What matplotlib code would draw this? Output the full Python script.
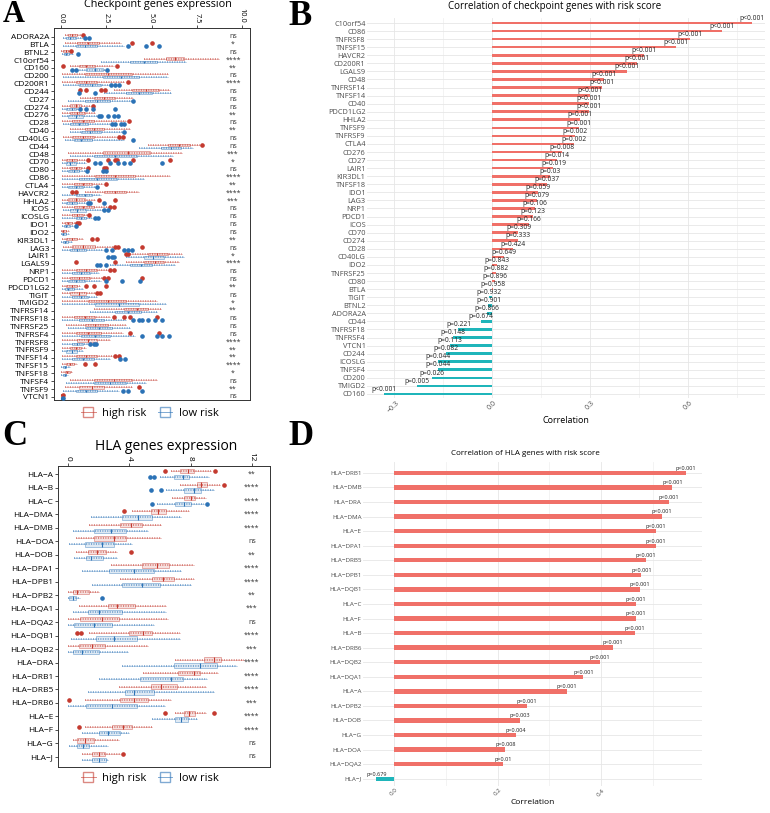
import matplotlib
matplotlib.use("Agg")
import matplotlib.pyplot as plt
from matplotlib.colors import to_rgba
from matplotlib.lines import Line2D
from matplotlib.ticker import MultipleLocator

plt.rcParams["font.family"] = ["Open Sans", "DejaVu Sans"]

W, H = 770, 813
RED = "#C43A2F"
BLUE = "#2B72B6"
POS = "#F07068"
NEG = "#1FB5BA"
MINUS = "\u2212"

# ---- panel A: checkpoint genes expression (whisker lo, q1, median, q3, whisker hi)
genes_a = ["ADORA2A", "BTLA", "BTNL2", "C10orf54", "CD160", "CD200", "CD200R1", "CD244",
           "CD27", "CD274", "CD276", "CD28", "CD40", "CD40LG", "CD44", "CD48", "CD70",
           "CD80", "CD86", "CTLA4", "HAVCR2", "HHLA2", "ICOS", "ICOSLG", "IDO1", "IDO2",
           "KIR3DL1", "LAG3", "LAIR1", "LGALS9", "NRP1", "PDCD1", "PDCD1LG2", "TIGIT",
           "TMIGD2", "TNFRSF14", "TNFRSF18", "TNFRSF25", "TNFRSF4", "TNFRSF8", "TNFRSF9",
           "TNFSF14", "TNFSF15", "TNFSF18", "TNFSF4", "TNFSF9", "VTCN1"]
sig_a = ["ns", "*", "ns", "****", "**", "ns", "****", "ns", "ns", "ns", "**", "ns", "**",
         "ns", "ns", "***", "*", "ns", "****", "**", "****", "***", "ns", "ns", "ns", "ns",
         "**", "ns", "*", "****", "ns", "ns", "**", "ns", "*", "**", "ns", "ns", "ns",
         "****", "**", "**", "****", "*", "ns", "**", "ns"]
high_a = [(0.2, 0.4, 0.6, 0.9, 1.1), (0.2, 0.9, 1.5, 2.1, 3.3), (0.0, 0.1, 0.25, 0.4, 0.5),
          (4.6, 5.8, 6.3, 6.8, 8.7), (0.5, 1.0, 1.4, 1.9, 2.9), (0.05, 1.3, 2.6, 3.9, 5.9),
          (0.05, 0.8, 1.4, 2.0, 3.5), (2.9, 3.9, 4.7, 5.4, 6.0), (1.05, 1.8, 2.4, 3.0, 4.0),
          (0.05, 0.5, 0.8, 1.1, 1.6), (0.05, 0.5, 0.9, 1.3, 1.9), (0.05, 0.6, 1.2, 1.8, 3.6),
          (0.5, 1.3, 1.8, 2.4, 3.8), (0.1, 0.6, 1.2, 1.8, 3.1), (4.8, 5.9, 6.5, 7.1, 7.7),
          (0.4, 2.3, 3.7, 4.9, 6.7), (0.05, 0.3, 0.6, 0.9, 1.4), (0.05, 0.5, 0.8, 1.1, 1.4),
          (0.05, 1.9, 3.0, 4.1, 6.0), (0.05, 0.7, 1.2, 1.7, 2.3), (1.3, 2.4, 3.0, 3.6, 4.3),
          (0.05, 0.4, 0.8, 1.3, 1.9), (0.05, 0.7, 1.2, 1.8, 2.6), (0.05, 0.6, 0.9, 1.2, 1.5),
          (0.05, 0.2, 0.4, 0.6, 0.8), (0.0, 0.05, 0.1, 0.25, 0.45), (0.05, 0.3, 0.6, 0.9, 1.2),
          (0.1, 0.6, 1.2, 1.9, 2.9), (3.8, 4.8, 5.3, 5.9, 6.7), (3.6, 4.6, 5.2, 5.7, 6.5),
          (0.05, 0.8, 1.4, 2.0, 2.6), (0.05, 0.5, 1.0, 1.6, 2.3), (0.05, 0.3, 0.6, 0.9, 1.05),
          (0.05, 0.5, 1.0, 1.4, 1.95), (0.05, 1.5, 2.6, 3.6, 5.3), (1.8, 3.5, 4.2, 4.8, 5.5),
          (0.05, 0.7, 1.3, 1.9, 2.7), (0.3, 1.3, 1.9, 2.6, 3.6), (0.05, 0.8, 1.5, 2.2, 3.4),
          (0.05, 0.9, 1.5, 2.0, 2.7), (0.05, 0.5, 0.8, 1.1, 1.4), (0.05, 0.8, 1.4, 2.0, 2.8),
          (0.05, 0.3, 0.5, 0.7, 0.9), (0.0, 0.2, 0.35, 0.5, 0.6), (0.5, 1.8, 2.9, 3.9, 5.3),
          (0.2, 1.0, 1.7, 2.4, 3.9), (0.0, 0.0, 0.0, 0.02, 0.05)]
high_out_a = [[1.23], [3.9, 5.05], [0.55], [], [0.1, 3.1], [], [3.7], [1.05, 1.4, 2.2, 2.45],
              [], [1.75], [], [3.75], [], [3.2, 3.4], [7.8], [], [1.5, 2.6, 3.0, 3.1, 4.0, 6.0],
              [1.5, 2.35, 2.5], [], [2.5], [0.6, 0.8], [2.1, 3.0], [2.7, 2.9], [1.55],
              [0.9, 1.0], [], [1.7, 2.0], [3.0, 3.15, 4.5], [3.6, 3.7], [0.8, 3.0], [2.7, 2.9],
              [2.4, 2.6, 4.45], [1.4, 1.8, 2.5], [2.0, 2.15], [], [], [2.9, 3.5, 3.8, 5.3], [],
              [3.8, 5.4], [], [], [3.0, 3.2], [1.3, 1.9], [], [], [4.3], [0.1]]
low_a = [(0.1, 0.3, 0.5, 0.8, 1.2), (0.1, 0.8, 1.3, 2.0, 3.5), (0.05, 0.15, 0.3, 0.45, 0.65),
         (2.2, 3.8, 4.6, 5.3, 6.9), (0.9, 1.4, 1.9, 2.3, 2.5), (0.1, 2.3, 3.3, 4.3, 5.9),
         (0.1, 1.0, 1.7, 2.2, 2.7), (2.4, 3.6, 4.3, 5.0, 6.1), (0.4, 1.3, 2.0, 2.7, 3.9),
         (0.05, 0.3, 0.6, 0.8, 1.0), (0.05, 0.4, 0.8, 1.2, 2.0), (0.1, 0.5, 1.0, 1.5, 2.7),
         (0.5, 1.1, 1.6, 2.2, 3.4), (0.2, 0.7, 1.1, 1.7, 3.5), (4.3, 5.5, 6.1, 6.6, 7.3),
         (0.5, 1.8, 3.0, 4.2, 6.2), (0.05, 0.3, 0.5, 0.8, 1.4), (0.05, 0.4, 0.7, 1.0, 1.4),
         (0.05, 1.0, 2.0, 3.1, 4.6), (0.05, 0.4, 0.8, 1.2, 1.9), (0.05, 0.8, 1.3, 1.7, 2.2),
         (0.05, 0.3, 0.6, 0.9, 1.4), (0.1, 0.5, 0.9, 1.4, 2.3), (0.05, 0.8, 1.1, 1.4, 1.7),
         (0.05, 0.15, 0.3, 0.5, 0.7), (0.0, 0.05, 0.1, 0.25, 0.45), (0.0, 0.1, 0.2, 0.4, 0.6),
         (0.05, 0.5, 0.9, 1.4, 2.3), (3.6, 4.6, 5.1, 5.7, 6.8), (2.7, 3.8, 4.4, 5.0, 6.3),
         (0.05, 0.6, 1.1, 1.6, 2.1), (0.05, 0.4, 0.8, 1.3, 2.2), (0.05, 0.2, 0.4, 0.7, 1.2),
         (0.05, 0.6, 1.1, 1.5, 2.0), (0.05, 1.9, 3.2, 4.3, 5.8), (1.6, 3.0, 3.7, 4.4, 5.3),
         (0.05, 1.0, 1.7, 2.4, 3.6), (0.4, 1.4, 2.1, 2.8, 3.8), (0.05, 1.1, 1.9, 2.7, 4.1),
         (0.05, 0.6, 0.9, 1.2, 1.5), (0.05, 0.3, 0.6, 0.9, 1.2), (0.05, 0.6, 1.2, 1.8, 2.7),
         (0.0, 0.1, 0.2, 0.3, 0.5), (0.0, 0.1, 0.2, 0.3, 0.4), (0.3, 1.8, 2.7, 3.6, 4.7),
         (0.1, 0.8, 1.4, 2.0, 3.2), (0.0, 0.0, 0.0, 0.02, 0.05)]
low_out_a = [[1.3, 1.55], [3.7, 4.7, 5.4], [0.95], [], [0.6, 0.8, 2.55], [], [2.75, 3.0, 3.2],
             [1.0, 1.9], [4.0], [1.05, 1.4, 1.75, 3.0], [2.1, 2.2, 2.6, 2.9, 3.15],
             [2.8, 3.0, 3.3, 3.5], [3.5], [4.0], [], [], [1.85, 2.15, 2.7, 3.15, 3.5, 3.8, 5.55],
             [1.45, 2.3, 2.5], [], [2.0], [], [1.5, 1.6, 2.35], [2.35, 2.6], [1.85, 2.05],
             [0.85], [], [], [2.5, 2.8, 3.5, 3.7, 3.9], [2.6, 2.8, 2.95], [2.0, 2.15, 2.5], [],
             [2.5, 3.35, 4.35], [], [], [], [], [4.0, 4.3, 4.45, 4.8, 5.2, 5.6], [],
             [4.5, 5.3, 5.6, 5.95], [1.6, 1.8, 1.95], [], [3.25, 3.55], [], [], [],
             [3.45, 3.7, 4.5], [0.1]]

# ---- panel B: correlation of checkpoint genes with risk score
genes_b = ["C10orf54", "CD86", "TNFRSF8", "TNFSF15", "HAVCR2", "CD200R1", "LGALS9", "CD48",
           "TNFRSF14", "TNFSF14", "CD40", "PDCD1LG2", "HHLA2", "TNFSF9", "TNFRSF9", "CTLA4",
           "CD276", "CD27", "LAIR1", "KIR3DL1", "TNFSF18", "IDO1", "LAG3", "NRP1", "PDCD1",
           "ICOS", "CD70", "CD274", "CD28", "CD40LG", "IDO2", "TNFRSF25", "CD80", "BTLA",
           "TIGIT", "BTNL2", "ADORA2A", "CD44", "TNFRSF18", "TNFRSF4", "VTCN1", "CD244",
           "ICOSLG", "TNFSF4", "CD200", "TMIGD2", "CD160"]
corr_b = [0.796, 0.704, 0.606, 0.564, 0.466, 0.445, 0.415, 0.343, 0.338, 0.300, 0.299, 0.297,
          0.269, 0.267, 0.254, 0.251, 0.215, 0.200, 0.189, 0.179, 0.169, 0.143, 0.138, 0.133,
          0.126, 0.113, 0.082, 0.079, 0.065, 0.037, 0.016, 0.012, 0.011, 0.004, -0.007,
          -0.010, -0.014, -0.034, -0.102, -0.120, -0.128, -0.140, -0.164, -0.164, -0.182,
          -0.229, -0.330]
p_b = ["p<0.001"] * 12 + ["p=0.001", "p=0.001", "p=0.002", "p=0.002", "p=0.008", "p=0.014",
       "p=0.019", "p=0.03", "p=0.037", "p=0.059", "p=0.079", "p=0.106", "p=0.123", "p=0.166",
       "p=0.309", "p=0.333", "p=0.424", "p=0.649", "p=0.843", "p=0.882", "p=0.896", "p=0.958",
       "p=0.932", "p=0.901", "p=0.866", "p=0.674", "p=0.221", "p=0.148", "p=0.113", "p=0.082",
       "p=0.044", "p=0.044", "p=0.026", "p=0.005", "p<0.001"]

# ---- panel C: HLA genes expression
genes_c = ["HLA-A", "HLA-B", "HLA-C", "HLA-DMA", "HLA-DMB", "HLA-DOA", "HLA-DOB", "HLA-DPA1",
           "HLA-DPB1", "HLA-DPB2", "HLA-DQA1", "HLA-DQA2", "HLA-DQB1", "HLA-DQB2", "HLA-DRA",
           "HLA-DRB1", "HLA-DRB5", "HLA-DRB6", "HLA-E", "HLA-F", "HLA-G", "HLA-J"]
sig_c = ["**", "****", "****", "****", "****", "ns", "**", "****", "****", "**", "***", "ns",
         "****", "***", "****", "****", "****", "***", "****", "****", "ns", "ns"]
high_c = [(6.7, 7.3, 7.8, 8.2, 9.3), (7.3, 8.4, 8.7, 9.1, 9.9), (6.8, 7.6, 8.0, 8.3, 9.0),
          (4.2, 5.4, 5.9, 6.4, 7.9), (1.4, 3.4, 4.1, 4.8, 6.1), (0.55, 1.7, 3.0, 3.8, 6.1),
          (0.55, 1.3, 1.9, 2.5, 3.2), (2.8, 4.8, 5.8, 6.6, 8.2), (3.4, 5.5, 6.2, 6.9, 8.2),
          (0.0, 0.3, 0.6, 1.4, 2.0), (0.7, 2.6, 3.2, 4.4, 6.4), (0.0, 0.8, 2.2, 3.3, 6.5),
          (1.4, 4.0, 4.9, 5.5, 7.3), (0.0, 0.7, 1.6, 2.4, 5.2), (7.0, 8.9, 9.5, 10.0, 11.5),
          (4.9, 7.2, 8.2, 8.6, 9.8), (3.3, 5.4, 6.1, 7.1, 9.0), (1.1, 3.4, 4.3, 5.2, 6.7),
          (7.0, 7.6, 7.9, 8.3, 9.0), (1.1, 2.9, 3.6, 4.2, 5.5), (0.3, 0.6, 1.1, 1.7, 3.3),
          (0.9, 1.6, 2.0, 2.4, 3.4)]
high_out_c = [[6.3, 9.6], [10.15], [], [3.65], [], [], [4.1], [], [], [], [], [], [0.6, 0.87],
              [], [], [], [], [0.1], [6.3, 9.5], [0.7], [], [3.6]]
low_c = [(6.0, 6.9, 7.5, 7.9, 9.2), (6.4, 7.6, 8.2, 8.7, 9.5), (5.8, 7.0, 7.6, 8.0, 8.9),
         (1.5, 3.5, 4.6, 5.5, 7.4), (0.3, 1.7, 2.8, 3.8, 5.2), (0.1, 1.1, 2.2, 3.0, 4.2),
         (0.4, 1.2, 1.5, 2.3, 3.2), (0.9, 2.7, 4.3, 5.6, 7.4), (1.6, 3.5, 4.8, 6.0, 8.0),
         (0.0, 0.1, 0.3, 0.5, 0.8), (0.3, 1.3, 2.0, 3.5, 6.4), (0.0, 0.4, 1.7, 2.9, 5.6),
         (0.2, 1.8, 3.0, 4.5, 7.3), (0.0, 0.3, 0.9, 2.0, 3.9), (3.5, 6.9, 8.6, 9.7, 11.0),
         (2.0, 4.7, 6.7, 7.5, 9.1), (1.3, 3.7, 4.3, 5.6, 9.5), (0.0, 1.2, 2.9, 4.5, 6.3),
         (5.5, 7.0, 7.4, 7.8, 8.4), (0.9, 2.0, 2.6, 3.4, 4.0), (0.1, 0.6, 1.0, 1.4, 2.6),
         (0.9, 1.6, 2.0, 2.5, 2.6)]
low_out_c = [[5.35, 5.6], [5.4, 6.1], [5.45, 9.1], [], [], [], [], [], [], [2.25], [], [], [],
             [], [], [], [], [], [], [], [], []]

# ---- panel D: correlation of HLA genes with risk score
genes_d = ["HLA-DRB1", "HLA-DMB", "HLA-DRA", "HLA-DMA", "HLA-E", "HLA-DPA1", "HLA-DRB5",
           "HLA-DPB1", "HLA-DQB1", "HLA-C", "HLA-F", "HLA-B", "HLA-DRB6", "HLA-DQB2",
           "HLA-DQA1", "HLA-A", "HLA-DPB2", "HLA-DOB", "HLA-G", "HLA-DOA", "HLA-DQA2", "HLA-J"]
corr_d = [0.564, 0.538, 0.531, 0.517, 0.506, 0.506, 0.486, 0.478, 0.475, 0.467, 0.467, 0.465,
          0.423, 0.398, 0.366, 0.334, 0.257, 0.243, 0.236, 0.215, 0.211, -0.034]
p_d = ["p<0.001"] * 16 + ["p=0.001", "p=0.003", "p=0.004", "p=0.008", "p=0.01", "p=0.679"]


def px_axes(fig, left, top, right, bottom):
    return fig.add_axes([left / W, 1 - bottom / H, (right - left) / W, (bottom - top) / H])


def expr_panel(ax, genes, sig, high, high_out, low, low_out, sig_x, dy, box_h, fs):
    n = len(genes)
    for stats, outs, color, off in [(high, high_out, RED, -dy), (low, low_out, BLUE, dy)]:
        pos = [i + off for i in range(n)]
        for y, s in zip(pos, stats):
            ax.hlines(y, s[0], s[4], color=color, lw=1.1, alpha=0.7,
                      linestyles=(0, (0.7, 0.9)), zorder=2)
        bstats = [dict(whislo=s[0], q1=s[1], med=s[2], q3=s[3], whishi=s[4], fliers=o)
                  for s, o in zip(stats, outs)]
        ax.bxp(bstats, positions=pos, widths=box_h, orientation="horizontal",
               patch_artist=True, showcaps=False, manage_ticks=False,
               boxprops=dict(facecolor=to_rgba(color, 0.15), edgecolor=to_rgba(color, 0.45),
                             lw=0.6),
               medianprops=dict(color=color, lw=0.8),
               whiskerprops=dict(color=to_rgba(color, 0.4), lw=0.5),
               flierprops=dict(marker="o", mfc=color, mec=color, ms=2.3, lw=0),
               zorder=3)
    for i, s in enumerate(sig):
        ax.text(sig_x, i, s, ha="center", va="center", fontsize=fs - 1, color="#333333")
    ax.set_yticks(range(n))
    ax.set_yticklabels([g.replace("-", MINUS) for g in genes], fontsize=fs)
    ax.xaxis.tick_top()
    for sp in ax.spines.values():
        sp.set_color("#333333")
        sp.set_linewidth(0.7)
    ax.tick_params(axis="both", length=2.5, width=0.6, color="#333333", pad=1)


def corr_panel(ax, genes, corr, pvals, bar_h, fs_lab, fs_p):
    n = len(genes)
    ax.barh(range(n), corr, height=bar_h, color=[POS if c > 0 else NEG for c in corr],
            zorder=3)
    for i, (c, p) in enumerate(zip(corr, pvals)):
        ax.text(c, i - bar_h / 2, p, ha="center", va="bottom", fontsize=fs_p,
                color="#222222", zorder=4)
    ax.set_yticks(range(n))
    ax.set_yticklabels([g.replace("-", MINUS) for g in genes], fontsize=fs_lab,
                       color="#4D4D4D")
    ax.set_axisbelow(True)
    ax.grid(True, which="major", color="#E6E6E6", lw=0.6)
    ax.grid(True, which="minor", axis="x", color="#EEEEEE", lw=0.5)
    for sp in ax.spines.values():
        sp.set_visible(False)
    ax.tick_params(axis="both", which="both", length=0, pad=1)


fig = plt.figure(figsize=(W / 100, H / 100), dpi=100)

# panel A
ax_a = px_axes(fig, 54, 28, 250, 400)
expr_panel(ax_a, genes_a, sig_a, high_a, high_out_a, low_a, low_out_a, 9.5, 0.2, 0.28, 6)
ax_a.set_xlim(-0.39, 10.44)
ax_a.set_ylim(46.4, -1.1)
ax_a.set_xticks([0, 2.5, 5, 7.5, 10])
ax_a.set_xticklabels(["0.0", "2.5", "5.0", "7.5", "10.0"], rotation=-90, fontsize=5.3)
fig.text(158 / W, 1 - 5 / H, "Checkpoint genes expression", ha="center", va="center",
         fontsize=7.8)

# panel C
ax_c = px_axes(fig, 58, 466, 270, 767)
expr_panel(ax_c, genes_c, sig_c, high_c, high_out_c, low_c, low_out_c, 12.0, 0.22, 0.32, 6)
ax_c.set_xlim(-0.65, 13.18)
ax_c.set_ylim(21.76, -0.6)
ax_c.set_xticks([0, 4, 8, 12])
ax_c.set_xticklabels(["0", "4", "8", "12"], rotation=-90, fontsize=6)
fig.text(166 / W, 1 - 446 / H, "HLA genes expression", ha="center", va="center",
         fontsize=10)

# legends for A and C
handles = [Line2D([0], [0], marker="s", ms=7, mfc="none", mec=to_rgba(c, 0.6),
                  color=to_rgba(c, 0.6), lw=0.7) for c in (RED, BLUE)]
for y in (413, 778):
    fig.legend(handles, ["high risk", "low risk"], loc="center", ncol=2, frameon=False,
               fontsize=8, bbox_to_anchor=(150 / W, 1 - y / H), handlelength=1.3,
               columnspacing=1.0, handletextpad=0.6)

# panel B
ax_b = px_axes(fig, 367, 18, 765, 398)
corr_panel(ax_b, genes_b, corr_b, p_b, 0.32, 5.3, 4.8)
ax_b.set_xlim(-0.382, 0.837)
ax_b.set_ylim(len(genes_b) - 0.5, -0.62)
ax_b.xaxis.set_major_locator(MultipleLocator(0.3))
ax_b.xaxis.set_minor_locator(MultipleLocator(0.15))
ax_b.set_xticks([-0.3, 0.0, 0.3, 0.6])
ax_b.set_xticklabels([MINUS + "0.3", "0.0", "0.3", "0.6"], rotation=45, fontsize=5,
                     color="#4D4D4D")
ax_b.set_xlabel("Correlation", fontsize=6.5, labelpad=1)
fig.text(555 / W, 1 - 7 / H, "Correlation of checkpoint genes with risk score",
         ha="center", va="center", fontsize=7)

# panel D
ax_d = px_axes(fig, 363, 462, 702, 786)
corr_panel(ax_d, genes_d, corr_d, p_d, 0.3, 4.5, 4)
ax_d.set_xlim(-0.06, 0.595)
ax_d.set_ylim(len(genes_d) - 0.5, -0.75)
ax_d.xaxis.set_minor_locator(MultipleLocator(0.1))
ax_d.set_xticks([0.0, 0.2, 0.4])
ax_d.set_xticklabels(["0.0", "0.2", "0.4"], rotation=45, fontsize=4.5, color="#4D4D4D")
ax_d.set_xlabel("Correlation", fontsize=6, labelpad=1)
fig.text(525 / W, 1 - 453 / H, "Correlation of HLA genes with risk score",
         ha="center", va="center", fontsize=5.8)

# panel letters
for x, y, s, fs in [(3, 0, "A", 22), (288, 0, "B", 25), (2, 420, "C", 25), (288, 420, "D", 25)]:
    fig.text(x / W, 1 - y / H, s, ha="left", va="top", fontsize=fs, fontweight="bold",
             family="Liberation Serif")

fig.savefig("out.png", dpi=100)
